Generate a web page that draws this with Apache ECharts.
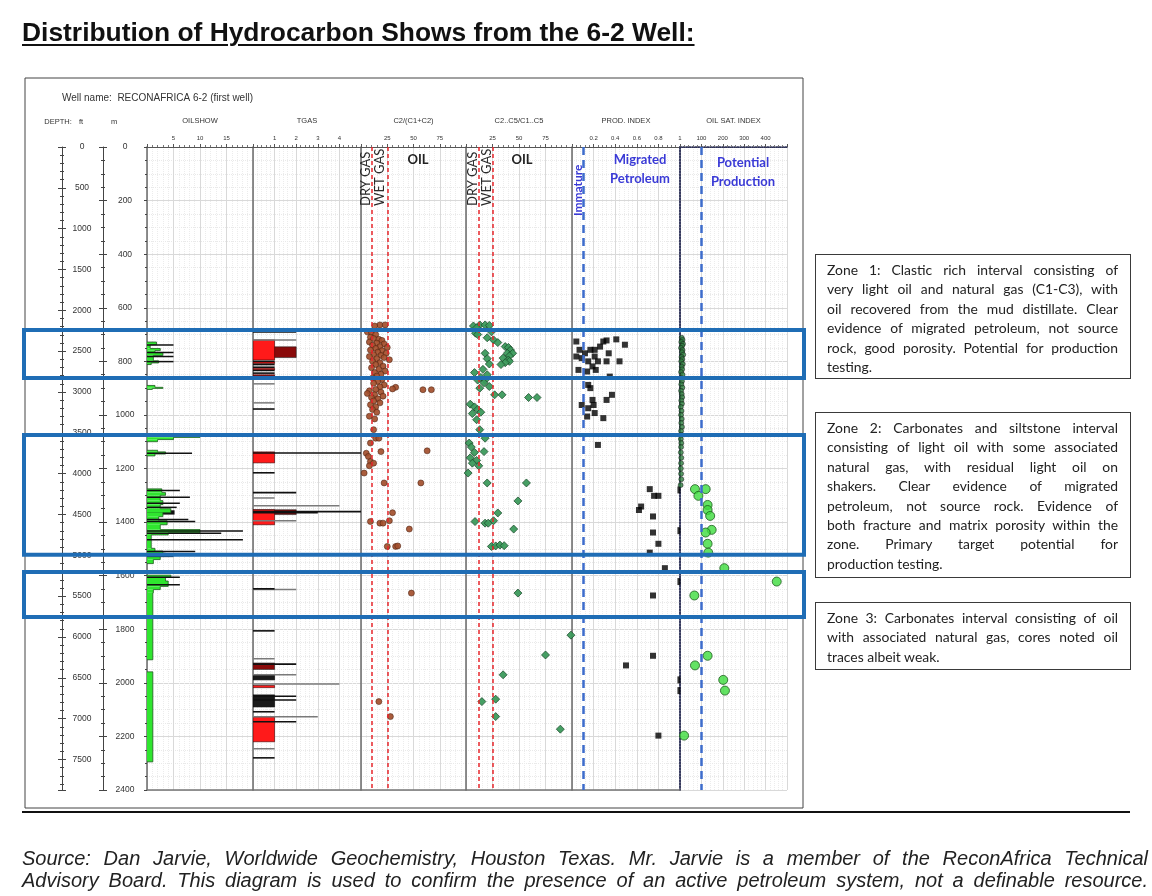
<!DOCTYPE html>
<html>
<head>
<meta charset="utf-8">
<script src="https://cdn.jsdelivr.net/npm/echarts@6/dist/echarts.min.js"></script>
<style>
  html, body { margin: 0; padding: 0; background: #fff; }
  .page { position: relative; width: 1152px; height: 896px; overflow: hidden; }
  #log { position: absolute; left: 0; top: 0; width: 1152px; height: 896px; }
  .title {
    position: absolute; left: 22px; top: 17px;
    font: bold 26.4px "Liberation Sans", Arial, sans-serif; color: #111;
    text-decoration: underline; text-decoration-thickness: 2px; text-underline-offset: 3px;
  }
  .zone {
    position: absolute; left: 815px; width: 316px; box-sizing: border-box;
    border: 1.5px solid #3a3a3a; padding: 5px 12px 0 11px;
    font: 13.9px Lato, "Open Sans", sans-serif; line-height: 19.4px; color: #222;
  }
  .j { text-align: justify; text-align-last: justify; }
  .rule { position: absolute; left: 22px; top: 811px; width: 1108px; height: 2px; background: #111; }
  .source {
    position: absolute; left: 22px; top: 847px; width: 1126px;
    font: italic 20px "Liberation Sans", Arial, sans-serif; line-height: 22px; color: #222;
  }
</style>
</head>
<body>
<div class="page">
  <div id="log"></div>
  <div class="title">Distribution of Hydrocarbon Shows from the 6-2 Well:</div>

  <div class="zone" style="top:254px;height:125px;">
    <div class="j">Zone 1: Clastic rich interval consisting of</div>
    <div class="j">very light oil and natural gas (C1-C3), with</div>
    <div class="j">oil recovered from the mud distillate. Clear</div>
    <div class="j">evidence of migrated petroleum, not source</div>
    <div class="j">rock, good porosity. Potential for production</div>
    <div>testing.</div>
  </div>
  <div class="zone" style="top:412px;height:166px;">
    <div class="j">Zone 2: Carbonates and siltstone interval</div>
    <div class="j">consisting of light oil with some associated</div>
    <div class="j">natural gas, with residual light oil on</div>
    <div class="j">shakers. Clear evidence of migrated</div>
    <div class="j">petroleum, not source rock. Evidence of</div>
    <div class="j">both fracture and matrix porosity within the</div>
    <div class="j">zone. Primary target potential for</div>
    <div>production testing.</div>
  </div>
  <div class="zone" style="top:602px;height:68px;">
    <div class="j">Zone 3: Carbonates interval consisting of oil</div>
    <div class="j">with associated natural gas, cores noted oil</div>
    <div>traces albeit weak.</div>
  </div>

  <div class="rule"></div>
  <div class="source">
    <div class="j">Source: Dan Jarvie, Worldwide Geochemistry, Houston Texas. Mr. Jarvie is a member of the ReconAfrica Technical</div>
    <div class="j">Advisory Board. This diagram is used to confirm the presence of an active petroleum system, not a definable resource.</div>
  </div>
</div>

<script>
// depth in metres, values
const depthMax = 2400
const ftMax = 2400 / 0.3048

// OILSHOW: green profile [top m, bottom m, value]
const oilShowFill = [
  [728, 738, 1.8], [738, 752, 0.6], [752, 760, 2.5], [760, 768, 1.5], [768, 778, 3], [778, 798, 1.2], [798, 806, 2.2], [806, 812, 0.8],
  [890, 897, 1.5], [897, 901, 3], [901, 905, 1],
  [1076, 1084, 10], [1084, 1092, 5], [1092, 1100, 2],
  [1132, 1138, 2], [1138, 1146, 3.5], [1146, 1153, 1.5],
  [1276, 1290, 2.8], [1290, 1300, 3.5], [1300, 1320, 2.5], [1320, 1335, 3], [1335, 1350, 2.5], [1350, 1365, 4.5],
  [1365, 1380, 3], [1380, 1395, 2.2], [1395, 1410, 3.8], [1410, 1428, 2.5], [1428, 1440, 10], [1440, 1448, 4],
  [1448, 1498, 0.8], [1498, 1508, 1.5], [1508, 1516, 3], [1516, 1525, 3.5], [1525, 1540, 2.5], [1540, 1555, 1.2],
  [1598, 1606, 4.5], [1606, 1620, 3.5], [1620, 1640, 4], [1640, 1652, 2.5], [1652, 1664, 1.2], [1664, 1914, 1.1],
  [1959, 2295, 1.1]
]
const oilShowDark = [[1356, 1372, 5.2]]
// OILSHOW single readings [depth m, value]
const oilShowLines = [
  [739, 5], [767, 5], [782, 5], [801, 5], [1080, 10], [1143, 8.5], [1282, 6.2], [1307, 8.1], [1330, 6.2],
  [1345, 5.6], [1390, 7.8], [1398, 9.1], [1433, 18.1], [1442, 14], [1466, 18.1], [1510, 9.1], [1528, 5],
  [1606, 6.2], [1634, 6.2]
]

// TGAS [top m, bottom m, value] and single readings [depth m, value]
const tgasDarkRed = [[746, 786, 2], [1354, 1372, 2], [1926, 1950, 1]]
const tgasRed = [[720, 795, 1], [802, 808, 1], [826, 832, 1], [850, 856, 1], [1138, 1179, 1], [1354, 1410, 1], [2010, 2018, 1], [2127, 2220, 1]]
const tgasBlack = [[1970, 1989, 1], [2045, 2090, 1]]
const tgasLines = [
  [690, 2], [800, 1], [812, 1], [822, 1], [834, 1], [844, 1], [856, 1], [978, 1], [1142, 5], [1216, 1], [1290, 2],
  [1361, 5], [1365, 3], [1649, 1], [1806, 1], [1930, 2], [2050, 2], [2064, 2], [2108, 1], [2145, 2], [2280, 1]
]
const tgasGrayLines = [
  [720, 2], [884, 1], [955, 1], [1310, 1], [1339, 4], [1395, 2], [1652, 2], [1910, 1], [1970, 2], [2004, 4],
  [2127, 3], [2246, 1]
]

// C2/(C1+C2) [value, depth m]
const c2Ratio = [
  [18, 664], [23, 664], [13, 668], [6, 690], [10, 692], [14, 700], [9, 710], [12, 715], [17, 718], [20, 722],
  [8, 728], [15, 732], [22, 735], [11, 740], [18, 745], [25, 748], [14, 752], [9, 758], [20, 760], [16, 766],
  [24, 770], [12, 775], [19, 778], [8, 782], [22, 786], [15, 790], [27, 794], [11, 800], [18, 805], [14, 812],
  [21, 818], [10, 824], [17, 830], [23, 836], [13, 842], [19, 848], [15, 855], [11, 862], [20, 868], [16, 875],
  [12, 882], [22, 888], [18, 895], [33, 897], [30, 903], [59, 906], [67, 906], [14, 905], [8, 910], [19, 915],
  [6, 920], [13, 925], [21, 930], [10, 935], [16, 940], [12, 948], [18, 955], [9, 962], [14, 970], [11, 980],
  [15, 990], [8, 1005], [13, 1015], [12, 1055], [14, 1087], [17, 1087], [9, 1105], [19, 1137], [63, 1134],
  [5, 1143], [7, 1155], [9, 1174], [12, 1180], [8, 1190], [3, 1217], [22, 1254], [57, 1254], [30, 1365],
  [9, 1398], [18, 1404], [21, 1404], [27, 1395], [46, 1426], [25, 1491], [33, 1491], [35, 1489],
  [48, 1665], [17, 2070], [28, 2126]
]

// C2..C5/C1..C5 [value, depth m]
const c2c5Ratio = [
  [7, 668], [13, 664], [18, 664], [22, 666], [10, 675], [9, 695], [11, 700], [24, 690], [20, 712],
  [26, 720], [30, 730], [37, 745], [40, 748], [42, 758], [39, 770], [44, 770], [41, 780], [35, 788], [40, 795],
  [41, 800], [37, 805], [33, 812], [18, 770], [20, 790], [22, 810], [16, 830], [20, 850], [14, 860], [18, 870],
  [8, 842], [11, 870], [17, 880], [22, 894], [13, 900], [27, 925], [34, 925], [59, 935], [67, 935],
  [4, 960], [8, 970], [11, 980], [14, 990], [6, 995], [10, 1018], [13, 1055], [18, 1087], [3, 1105], [5, 1120],
  [8, 1140], [4, 1160], [10, 1170], [6, 1180], [12, 1190], [2, 1217], [17, 1137], [20, 1254], [57, 1254],
  [49, 1321], [30, 1366], [8.5, 1398], [18, 1404], [21, 1404], [26, 1395], [45, 1426], [24, 1491], [28, 1489],
  [32, 1486], [36, 1488], [49, 1665], [99, 1822], [75, 1896], [35, 1970], [15, 2070], [28, 2061], [28, 2126],
  [89, 2173]
]

// PROD. INDEX [value, depth m]
const prodIndex = [
  [0.04, 726], [0.29, 726], [0.32, 722], [0.41, 718], [0.49, 738], [0.26, 745], [0.07, 757], [0.17, 757],
  [0.21, 757], [0.12, 770], [0.34, 770], [0.04, 782], [0.21, 782], [0.09, 788], [0.15, 800], [0.24, 800],
  [0.32, 800], [0.44, 800], [0.19, 819], [0.06, 832], [0.22, 832], [0.14, 838], [0.35, 857], [0.15, 888],
  [0.17, 900], [0.37, 925], [0.32, 944], [0.19, 944], [0.09, 963], [0.2, 963], [0.15, 975], [0.21, 993],
  [0.29, 1012], [0.14, 1006], [0.24, 1112], [0.72, 1277], [0.76, 1302], [0.8, 1302], [0.64, 1342], [0.62, 1355],
  [0.75, 1379], [0.75, 1439], [0.8, 1481], [0.72, 1514], [0.86, 1572], [0.75, 1674], [0.75, 1899], [0.5, 1935],
  [0.8, 2197]
]
const prodEdge = [[0.99, 1280], [0.99, 1432], [0.99, 1622], [0.99, 1989], [0.99, 2029]]

// OIL SAT. INDEX [value, depth m]
const oilSatLow = [
  [8, 712], [12, 720], [6, 728], [14, 735], [10, 742], [5, 750], [12, 758], [9, 766], [15, 775], [7, 784],
  [11, 792], [6, 800], [13, 810], [8, 820], [10, 830], [5, 840], [12, 850], [7, 862], [9, 874], [6, 886],
  [11, 898], [5, 910], [8, 922], [10, 934], [6, 946], [9, 958], [4, 970], [7, 985], [5, 1000], [8, 1015],
  [6, 1030], [9, 1045], [5, 1060], [7, 1075], [4, 1090], [6, 1105], [5, 1120], [4, 1140], [6, 1160],
  [5, 1180], [4, 1200], [5, 1220], [6, 1240], [3, 1262]
]
const oilSat = [
  [70, 1277], [120, 1277], [86, 1302], [129, 1336], [129, 1355], [141, 1377], [148, 1429], [120, 1439],
  [129, 1481], [132, 1514], [207, 1572], [452, 1622], [67, 1674], [129, 1899], [70, 1935], [202, 1989],
  [210, 2029], [19, 2197]
]

// zone intervals [top m, bottom m]
const zones = [[683, 862], [1075, 1522], [1586, 1754]]

// track headers and scales
const trackNames = ['OILSHOW', 'TGAS', 'C2/(C1+C2)', 'C2..C5/C1..C5', 'PROD. INDEX', 'OIL SAT. INDEX']
const trackMax = [20, 5, 100, 100, 1, 500]
const trackStep = [5, 1, 25, 25, 0.2, 100]

const layout = [
  { left: 147, width: 106 },
  { left: 253, width: 108 },
  { left: 361, width: 105 },
  { left: 466, width: 106 },
  { left: 572, width: 108 },
  { left: 680, width: 107 }
]
const TOP = 147
const HEIGHT = 643

let chart = echarts.init(document.getElementById('log'))

let grids = layout.map(l => ({ left: l.left, width: l.width, top: TOP, height: HEIGHT, outerBoundsMode: 'none' }))
grids.push({ left: 62, width: 41, top: TOP, height: HEIGHT, outerBoundsMode: 'none' })
grids.push({ left: 103, width: 44, top: TOP, height: HEIGHT, outerBoundsMode: 'none' })

let xAxes = []
let yAxes = []
trackNames.forEach((name, i) => {
  const dotted = i === 5
  yAxes.push({
    gridIndex: i, type: 'value', inverse: true, min: 0, max: depthMax, interval: 200,
    axisLine: { show: true, lineStyle: { color: dotted ? '#2b2f55' : '#6a6a6a', width: 1.5, type: dotted ? 'dotted' : 'solid' } },
    axisTick: { show: i === 0, length: 3, lineStyle: { color: '#444' } },
    minorTick: { show: i === 0, splitNumber: 4, length: 2, lineStyle: { color: '#444' } },
    axisLabel: { show: false },
    splitLine: { show: true, lineStyle: { color: '#d9d9d9', width: 1 } },
    minorSplitLine: { show: true, lineStyle: { color: '#e9e9e9', type: 'dotted' } }
  })
  xAxes.push({
    gridIndex: i, type: 'value', position: 'top', min: 0, max: trackMax[i], interval: trackStep[i],
    name: name, nameLocation: 'middle', nameGap: 22,
    nameTextStyle: { fontSize: 7.5, color: '#333', fontFamily: 'Liberation Sans' },
    axisLine: { show: true, lineStyle: { color: dotted ? '#2b2f55' : '#555', width: 1, type: dotted ? 'dotted' : 'solid' } },
    axisTick: { show: true, length: 3, lineStyle: { color: '#555' } },
    minorTick: { show: true, splitNumber: 5, length: 2, lineStyle: { color: '#777' } },
    axisLabel: {
      fontSize: 6, color: '#333', margin: 6, fontFamily: 'Liberation Sans',
      showMinLabel: false, showMaxLabel: i === 4
    },
    splitLine: { show: true, lineStyle: { color: '#d9d9d9' } },
    minorSplitLine: { show: true, lineStyle: { color: '#ececec', type: 'dotted' } }
  })
})
// bottom borders of the tracks
trackNames.forEach((name, i) => {
  xAxes.push({
    gridIndex: i, type: 'value', position: 'bottom', min: 0, max: trackMax[i],
    axisLine: { show: true, lineStyle: { color: i === 5 ? '#2b2f55' : '#777', width: 1.5, type: i === 5 ? 'dotted' : 'solid' } },
    axisTick: { show: false }, axisLabel: { show: false }, splitLine: { show: false }
  })
})
// right border of the oil saturation track
yAxes.push({
  gridIndex: 5, type: 'value', position: 'right', inverse: true, min: 0, max: depthMax,
  axisLine: { show: true, lineStyle: { color: '#2b2f55', width: 1.5, type: 'dotted' } },
  axisTick: { show: false }, axisLabel: { show: false }, splitLine: { show: false }
})
// depth axes: feet (grid 6) and metres (grid 7)
const depthAxis = (gi, max, step, minor, labels, inside) => ({
  gridIndex: gi, type: 'value', position: 'left', inverse: true, min: 0, max: max, interval: step,
  axisLine: { show: labels, lineStyle: { color: '#444', width: 1 } },
  axisTick: { show: true, inside: inside, length: 4, lineStyle: { color: '#444' } },
  minorTick: { show: true, splitNumber: minor, length: 2, lineStyle: { color: '#444' } },
  axisLabel: {
    show: labels, inside: true, margin: gi === 6 ? 20 : 22, align: 'center',
    fontSize: 8.5, color: '#333', fontFamily: 'Liberation Sans', showMaxLabel: gi === 7,
    formatter: v => String(Math.round(v))
  },
  splitLine: { show: false }
})
yAxes.push(depthAxis(6, ftMax, 500, 5, true, true))
yAxes.push(depthAxis(6, ftMax, 500, 5, false, false))
yAxes.push(depthAxis(7, depthMax, 200, 4, true, true))
yAxes.push(depthAxis(7, depthMax, 200, 4, false, false))
xAxes.push({ gridIndex: 6, type: 'value', show: false })
xAxes.push({ gridIndex: 7, type: 'value', show: false })

function rectSeries (gi, data, fill, stroke) {
  return {
    type: 'custom', xAxisIndex: gi, yAxisIndex: gi, data: data, encode: { x: 2, y: [0, 1] }, clip: true, silent: true,
    renderItem (params, api) {
      const a = api.coord([0, api.value(0)])
      const b = api.coord([api.value(2), api.value(1)])
      return {
        type: 'rect',
        shape: { x: a[0], y: a[1], width: b[0] - a[0], height: Math.max(b[1] - a[1], 1) },
        style: { fill: fill, stroke: stroke, lineWidth: stroke ? 0.6 : 0 }
      }
    }
  }
}

function readingSeries (gi, data, color, w) {
  return {
    type: 'custom', xAxisIndex: gi, yAxisIndex: gi, data: data, encode: { x: 1, y: 0 }, clip: true, silent: true,
    renderItem (params, api) {
      const a = api.coord([0, api.value(0)])
      const b = api.coord([api.value(1), api.value(0)])
      return { type: 'line', shape: { x1: a[0], y1: a[1], x2: b[0], y2: b[1] }, style: { stroke: color, lineWidth: w } }
    }
  }
}

const profileSeries = {
  type: 'custom', xAxisIndex: 0, yAxisIndex: 0, data: oilShowFill, encode: { x: 2, y: [0, 1] }, clip: true, silent: true,
  renderItem (params, api) {
    const i = params.dataIndex
    const d = oilShowFill[i]
    const prev = oilShowFill[i - 1]
    const next = oilShowFill[i + 1]
    const a = api.coord([0, d[0]])
    const b = api.coord([d[2], d[1]])
    const pv = prev && prev[1] === d[0] ? prev[2] : 0
    const pts = [api.coord([pv, d[0]]), api.coord([d[2], d[0]]), api.coord([d[2], d[1]])]
    if (!(next && next[0] === d[1])) pts.push(api.coord([0, d[1]]))
    return {
      type: 'group',
      children: [
        { type: 'rect', shape: { x: a[0], y: a[1], width: b[0] - a[0], height: b[1] - a[1] }, style: { fill: '#2fe52f' } },
        { type: 'polyline', shape: { points: pts }, style: { stroke: '#1f5a1f', lineWidth: 0.8, fill: null } }
      ]
    }
  }
}

const redDash = { color: '#e8262b', type: [4, 3], width: 1.5 }
const blueDash = { color: '#3d6ccc', type: [8, 5], width: 2.5 }
const vLines = (vals, style) => ({
  silent: true, symbol: 'none', label: { show: false }, lineStyle: style,
  data: vals.map(v => ({ xAxis: v }))
})

let series = [
  rectSeries(0, oilShowDark, '#111', null),
  profileSeries,
  readingSeries(0, oilShowLines, '#111', 1.5),
  rectSeries(1, tgasDarkRed, '#8a0a0a', '#222'),
  rectSeries(1, tgasRed, '#ff1a1a', '#3a0000'),
  rectSeries(1, tgasBlack, '#1a1a1a', '#000'),
  readingSeries(1, tgasGrayLines, '#7a7a7a', 1.5),
  readingSeries(1, tgasLines, '#111', 1.6),
  {
    type: 'scatter', xAxisIndex: 2, yAxisIndex: 2, data: c2Ratio, symbol: 'circle', symbolSize: 6,
    itemStyle: { color: '#a34f2c', borderColor: '#4a2010', borderWidth: 0.6, opacity: 0.92 },
    markLine: vLines([10, 25], redDash)
  },
  {
    type: 'scatter', xAxisIndex: 3, yAxisIndex: 3, data: c2c5Ratio, symbol: 'diamond', symbolSize: 8,
    itemStyle: { color: '#3c9a5c', borderColor: '#1b4a2b', borderWidth: 0.8, opacity: 0.95 },
    markLine: vLines([12, 25], redDash)
  },
  {
    type: 'scatter', xAxisIndex: 4, yAxisIndex: 4, data: prodIndex, symbol: 'rect', symbolSize: 6,
    itemStyle: { color: '#000' },
    markLine: vLines([0.1], blueDash)
  },
  {
    type: 'scatter', xAxisIndex: 4, yAxisIndex: 4, data: prodEdge, symbol: 'rect', symbolSize: [3, 7],
    itemStyle: { color: '#000' }
  },
  {
    type: 'scatter', xAxisIndex: 5, yAxisIndex: 5, data: oilSatLow, symbol: 'circle', symbolSize: 5,
    itemStyle: { color: '#2e7d3e', borderColor: '#111', borderWidth: 0.6 }
  },
  {
    type: 'scatter', xAxisIndex: 5, yAxisIndex: 5, data: oilSat, symbol: 'circle', symbolSize: 9,
    itemStyle: { color: '#3ddc3d', borderColor: '#1d5d1d', borderWidth: 1 },
    markLine: vLines([100], blueDash)
  }
]

const txt = (text, x, y, font, fill, align) => ({
  type: 'text', x: x, y: y, z: 50, silent: true,
  style: {
    text: text, font: font, fill: fill,
    align: align || 'center', verticalAlign: 'middle', textAlign: align || 'center', textVerticalAlign: 'middle'
  }
})

const labelFont = '7.5px "Liberation Sans"'
const vertical = (text, x, yBottom, font, fill) => ({
  type: 'text', x: x, y: yBottom, rotation: Math.PI / 2, z: 50, silent: true,
  style: { text: text, font: font, fill: fill, align: 'left', verticalAlign: 'middle', textAlign: 'left', textVerticalAlign: 'middle' }
})

let graphics = [
  { type: 'rect', shape: { x: 25, y: 78, width: 778, height: 730 }, style: { fill: null, stroke: '#444', lineWidth: 1 }, z: 1, silent: true },
  txt('Well name:  RECONAFRICA 6-2 (first well)', 62, 98, '10px "Liberation Sans"', '#333', 'left'),
  txt('DEPTH:', 58, 122, labelFont, '#333'),
  txt('ft', 81, 122, labelFont, '#333'),
  txt('m', 114, 122, labelFont, '#333'),
  vertical('DRY GAS', 366, 206, '13px Lato', '#2a2a2a'),
  vertical('WET GAS', 380, 206, '13px Lato', '#2a2a2a'),
  vertical('DRY GAS', 473, 206, '13px Lato', '#2a2a2a'),
  vertical('WET GAS', 487, 206, '13px Lato', '#2a2a2a'),
  txt('OIL', 418, 160, 'bold 13px Lato', '#222'),
  txt('OIL', 522, 160, 'bold 13px Lato', '#222'),
  vertical('Immature', 578, 216, 'bold 12px Lato', '#3a3ad6'),
  txt('Migrated', 640, 160, 'bold 13px Lato', '#3a3ad6'),
  txt('Petroleum', 640, 179, 'bold 13px Lato', '#3a3ad6'),
  txt('Potential', 743, 163, 'bold 13px Lato', '#3a3ad6'),
  txt('Production', 743, 182, 'bold 13px Lato', '#3a3ad6')
]

chart.setOption({
  animation: false,
  backgroundColor: '#fff',
  grid: grids,
  xAxis: xAxes,
  yAxis: yAxes,
  series: series,
  graphic: graphics
})

// zone boxes placed through the depth scale
zones.forEach(z => {
  const y1 = chart.convertToPixel({ yAxisIndex: 0 }, z[0])
  const y2 = chart.convertToPixel({ yAxisIndex: 0 }, z[1])
  graphics.push({
    type: 'rect', z: 100, silent: true,
    shape: { x: 24, y: y1, width: 780, height: y2 - y1 },
    style: { fill: null, stroke: '#1f6db5', lineWidth: 4 }
  })
})
chart.setOption({ graphic: graphics })
</script>
</body>
</html>
